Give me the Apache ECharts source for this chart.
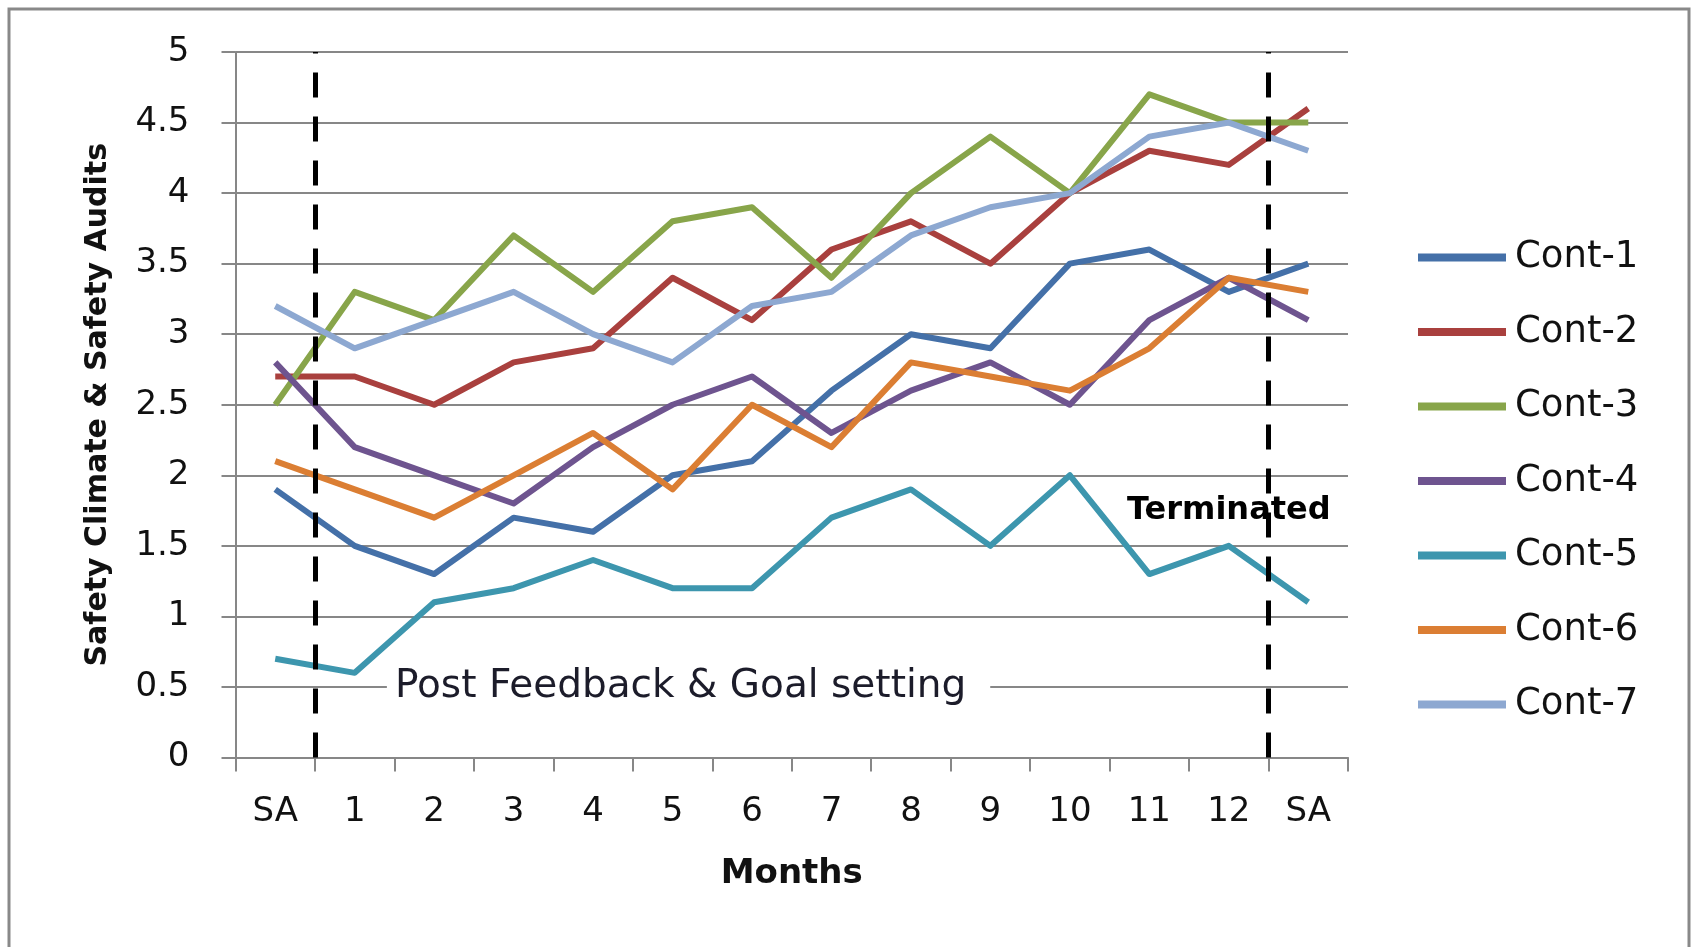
<!DOCTYPE html>
<html>
<head>
<meta charset="utf-8">
<script src="https://cdn.jsdelivr.net/npm/echarts@6/dist/echarts.min.js"></script>
<style>
html,body{margin:0;padding:0;background:#fff;}
#chart{width:1694px;height:947px;}
</style>
</head>
<body>
<div id="chart"></div>
<script>
var months=['SA','1','2','3','4','5','6','7','8','9','10','11','12','SA'];
var seriesNames=['Cont-1','Cont-2','Cont-3','Cont-4','Cont-5','Cont-6','Cont-7'];
var seriesColors=['#4470a8','#a9403e','#88a54a','#6e548f','#3d96ae','#db7e33','#8da8d1'];
var cont1=[1.9,1.5,1.3,1.7,1.6,2.0,2.1,2.6,3.0,2.9,3.5,3.6,3.3,3.5];
var cont2=[2.7,2.7,2.5,2.8,2.9,3.4,3.1,3.6,3.8,3.5,4.0,4.3,4.2,4.6];
var cont3=[2.5,3.3,3.1,3.7,3.3,3.8,3.9,3.4,4.0,4.4,4.0,4.7,4.5,4.5];
var cont4=[2.8,2.2,2.0,1.8,2.2,2.5,2.7,2.3,2.6,2.8,2.5,3.1,3.4,3.1];
var cont5=[0.7,0.6,1.1,1.2,1.4,1.2,1.2,1.7,1.9,1.5,2.0,1.3,1.5,1.1];
var cont6=[2.1,1.9,1.7,2.0,2.3,1.9,2.5,2.2,2.8,2.7,2.6,2.9,3.4,3.3];
var cont7=[3.2,2.9,3.1,3.3,3.0,2.8,3.2,3.3,3.7,3.9,4.0,4.4,4.5,4.3];
var allData=[cont1,cont2,cont3,cont4,cont5,cont6,cont7];
// phase boundaries, in category slots (between SA|1 and 12|SA)
var phaseBounds=[1,13];

var gridColor='#878787';
var font='DejaVu Sans';

var myChart=echarts.init(document.getElementById('chart'));

var series=[];
for(var i=0;i<allData.length;i++){
	series.push({
		name:seriesNames[i],
		type:'line',
		data:allData[i],
		symbol:'none',
		smooth:false,
		z:3,
		lineStyle:{width:6,color:seriesColors[i],join:'round'},
		itemStyle:{color:seriesColors[i]}
	});
}
// text notes
series[0].markPoint={
	symbol:'rect',
	symbolSize:1,
	silent:true,
	itemStyle:{color:'rgba(0,0,0,0)'},
	data:[
		{
			coord:[5,0.5],
			label:{show:true,position:'inside',offset:[16,0],formatter:'Post Feedback & Goal setting',
				fontFamily:font,fontSize:39,color:'#1c1c2a',backgroundColor:'#fff',padding:[4,24,4,8]}
		},
		{
			coord:[12,1.75],
			label:{show:true,position:'inside',formatter:'Terminated',
				fontFamily:font,fontSize:32,fontWeight:'bold',color:'#000'}
		}
	]
};
// dashed phase lines
var markData=[];
for(var j=0;j<phaseBounds.length;j++){
	markData.push({xAxis:phaseBounds[j]});
}
series.push({
	name:'phase',
	type:'line',
	xAxisIndex:1,
	data:[],
	z:10,
	markLine:{
		silent:true,
		symbol:['none','none'],
		label:{show:false},
		lineStyle:{color:'#000',width:5,type:[25,19]},
		data:markData
	}
});

var option={
	backgroundColor:'#fff',
	animation:false,
	graphic:[{
		type:'rect',
		shape:{x:9,y:9,width:1680,height:1000},
		style:{fill:'none',stroke:'#898989',lineWidth:3},
		silent:true
	}],
	grid:{left:235.5,right:346,top:52,bottom:189.5},
	legend:{
		orient:'vertical',
		left:1413,
		top:234,
		data:seriesNames,
		icon:'rect',
		itemWidth:88,
		itemHeight:8,
		itemGap:37.5,
		textStyle:{fontFamily:font,fontSize:37,color:'#111',lineHeight:30,padding:[0,0,0,4]}
	},
	xAxis:[
		{
			type:'category',
			data:months,
			boundaryGap:true,
			name:'Months',
			nameLocation:'middle',
			nameGap:100,
			nameTextStyle:{fontFamily:font,fontSize:34,fontWeight:'bold',color:'#111'},
			axisLine:{lineStyle:{color:gridColor,width:2}},
			axisTick:{show:true,length:14,lineStyle:{color:gridColor,width:2}},
			axisLabel:{margin:38,fontFamily:font,fontSize:34,color:'#111',interval:0},
			splitLine:{show:false}
		},
		{
			type:'value',
			min:0,
			max:14,
			show:false
		}
	],
	yAxis:{
		type:'value',
		min:0,
		max:5,
		interval:0.5,
		name:'Safety Climate & Safety Audits',
		nameLocation:'middle',
		nameGap:122,
		nameTextStyle:{fontFamily:font,fontSize:30,fontWeight:'bold',color:'#111'},
		axisLine:{show:true,lineStyle:{color:gridColor,width:2}},
		axisTick:{show:true,length:14,lineStyle:{color:gridColor,width:2}},
		axisLabel:{margin:46,fontFamily:font,fontSize:34,color:'#111'},
		splitLine:{show:true,lineStyle:{color:gridColor,width:2}}
	},
	series:series
};
myChart.setOption(option);
</script>
</body>
</html>
